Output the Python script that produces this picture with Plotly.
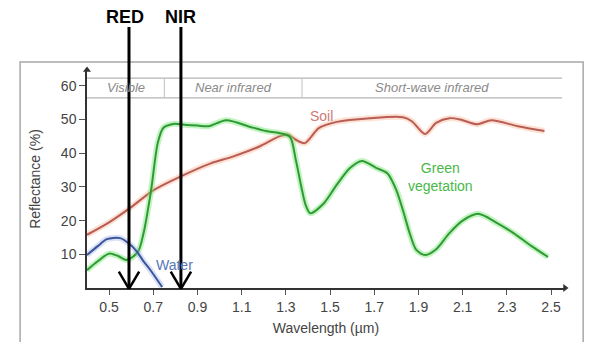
import plotly.graph_objects as go

# ---------------- data ----------------
soil_wl = [0.4, 0.5, 0.6, 0.7, 0.82, 0.96, 1.06, 1.18, 1.27, 1.31, 1.345, 1.385,
           1.45, 1.53, 1.68, 1.83, 1.87, 1.93, 1.98, 2.04, 2.09, 2.165, 2.23, 2.35, 2.47]
soil_r = [15.8, 19.5, 24, 29, 33, 37, 39, 42, 45, 45.5, 44, 43,
          47.5, 49.3, 50.4, 50.7, 49.5, 45.7, 49, 50.4, 50, 48.6, 49.8, 48, 46.6]

veg_wl = [0.4, 0.45, 0.5, 0.54, 0.58, 0.63, 0.655, 0.69, 0.72, 0.745, 0.79, 0.85, 0.9,
          0.95, 1.03, 1.14, 1.21, 1.27, 1.318, 1.345, 1.37, 1.39, 1.41, 1.47, 1.53,
          1.59, 1.644, 1.71, 1.76, 1.80, 1.83, 1.86, 1.89, 1.93, 1.98, 2.04, 2.10,
          2.17, 2.25, 2.33, 2.41, 2.486]
veg_r = [5.3, 8, 10.2, 9.5, 8.3, 10.7, 16, 29, 43, 47.5, 48.7, 48.4, 48.2,
         48, 49.8, 47.8, 46.6, 46, 44.9, 38, 30, 24.5, 22.2, 25, 30.6,
         35.6, 37.7, 35.6, 34, 29, 23, 16.3, 11.3, 9.8, 11.5, 16.3, 20,
         22, 19.5, 16.3, 12.5, 9.2]

water_wl = [0.4, 0.45, 0.49, 0.55, 0.59, 0.626, 0.655, 0.685, 0.74]
water_r = [9.8, 12.5, 14.5, 14.8, 13.2, 10.8, 8, 5.5, 0.3]

x_ticks = [0.5, 0.7, 0.9, 1.1, 1.3, 1.5, 1.7, 1.9, 2.1, 2.3, 2.5]
x_tick_labels = ["0.5", "0.7", "0.9", "1.1", "1.3", "1.5", "1.7", "1.9", "2.1", "2.3", "2.5"]
y_ticks = [10, 20, 30, 40, 50, 60]
y_tick_labels = ["10", "20", "30", "40", "50", "60"]

region_edges = [0.4, 0.75, 1.373, 2.55]
region_names = ["Visible", "Near infrared", "Short-wave infrared"]
region_band = [56.4, 62.3]

band_names = ["RED", "NIR"]
band_wl = [0.59, 0.825]
band_text_wl = [0.572, 0.821]

x_range = [0.4, 2.563]
y_range = [0, 64.7]

# ---------------- figure ----------------
fig = go.Figure()

def curve(xs, ys, color, glow):
    fig.add_trace(go.Scatter(x=xs, y=ys, mode="lines", hoverinfo="skip",
                             line=dict(color=glow, width=6, shape="spline", smoothing=0.8)))
    fig.add_trace(go.Scatter(x=xs, y=ys, mode="lines", hoverinfo="skip",
                             line=dict(color=color, width=2, shape="spline", smoothing=0.8)))

curve(soil_wl, soil_r, "#b85c55", "rgba(250,190,160,0.45)")
curve(veg_wl, veg_r, "#2f9a34", "rgba(120,230,120,0.45)")
curve(water_wl, water_r, "#3a559c", "rgba(150,170,230,0.35)")

# axis arrow heads
fig.add_trace(go.Scatter(x=[x_range[0]], y=[y_range[1]], mode="markers", cliponaxis=False,
                         hoverinfo="skip",
                         marker=dict(symbol="triangle-up", size=7, color="#333")))
fig.add_trace(go.Scatter(x=[x_range[1]], y=[y_range[0]], mode="markers", cliponaxis=False,
                         hoverinfo="skip",
                         marker=dict(symbol="triangle-right", size=7, color="#333")))

shapes = []
# outer frame of the picture
shapes.append(dict(type="rect", xref="paper", yref="paper", x0=-0.14, x1=1.038, y0=-0.3, y1=1.037,
                   line=dict(color="#a8a8a8", width=1.5), fillcolor="rgba(0,0,0,0)", layer="below"))
# region header band
for yv in region_band:
    shapes.append(dict(type="line", xref="x", yref="y", x0=region_edges[0], x1=region_edges[-1],
                       y0=yv, y1=yv, line=dict(color="#b5b5b5", width=1.2)))
for xv in region_edges[1:-1]:
    shapes.append(dict(type="line", xref="x", yref="y", x0=xv, x1=xv,
                       y0=region_band[0], y1=region_band[1], line=dict(color="#c0c0c0", width=1)))
# RED / NIR arrows
for wl in band_wl:
    shapes.append(dict(type="line", xref="x", yref="paper", x0=wl, x1=wl, y0=-0.004, y1=1.197,
                       line=dict(color="black", width=3)))
    for dx in (-0.046, 0.046):
        shapes.append(dict(type="line", xref="x", yref="paper", x0=wl + dx, x1=wl,
                           y0=0.075, y1=-0.004, line=dict(color="black", width=2.5)))

annotations = []
for i, name in enumerate(region_names):
    annotations.append(dict(x=(region_edges[i] + region_edges[i + 1]) / 2, y=59.5,
                            xref="x", yref="y", text="<i>%s</i>" % name, showarrow=False,
                            font=dict(size=13, color="#8a8a8a")))
annotations.append(dict(x=1.463, y=51, xref="x", yref="y", text="Soil", showarrow=False,
                        font=dict(size=14, color="#cf7a78")))
annotations.append(dict(x=2.0, y=32.9, xref="x", yref="y", text="Green<br>vegetation",
                        showarrow=False, font=dict(size=14, color="#48b848")))
annotations.append(dict(x=0.798, y=6.8, xref="x", yref="y", text="Water", showarrow=False,
                        font=dict(size=14, color="#5577b8")))
for name, tx in zip(band_names, band_text_wl):
    annotations.append(dict(x=tx, y=1.245, xref="x", yref="paper", yanchor="middle",
                            text="<b>%s</b>" % name, showarrow=False,
                            font=dict(size=18, color="black", family="Liberation Sans, Arial")))

fig.update_layout(
    width=589, height=342,
    margin=dict(l=87, r=24, t=70, b=54),
    paper_bgcolor="white", plot_bgcolor="white",
    showlegend=False,
    font=dict(family="Liberation Sans, Arial, sans-serif", color="#444"),
    shapes=shapes, annotations=annotations,
    xaxis=dict(range=x_range, tickvals=x_ticks, ticktext=x_tick_labels, automargin=False,
               showgrid=False, zeroline=False, showline=True, linecolor="#333", linewidth=1.5,
               ticks="outside", ticklen=5, tickcolor="#555", tickwidth=1,
               tickfont=dict(size=14, color="#444"),
               title=dict(text="Wavelength (µm)", font=dict(size=14, color="#444"), standoff=10)),
    yaxis=dict(range=y_range, tickvals=y_ticks, ticktext=y_tick_labels, automargin=False,
               showgrid=False, zeroline=False, showline=True, linecolor="#333", linewidth=1.5,
               ticks="outside", ticklen=6, tickcolor="#555", tickwidth=1,
               tickfont=dict(size=14, color="#444"),
               title=dict(text="Reflectance (%)", font=dict(size=14, color="#444"), standoff=17)),
)

fig.write_html("out.html")
